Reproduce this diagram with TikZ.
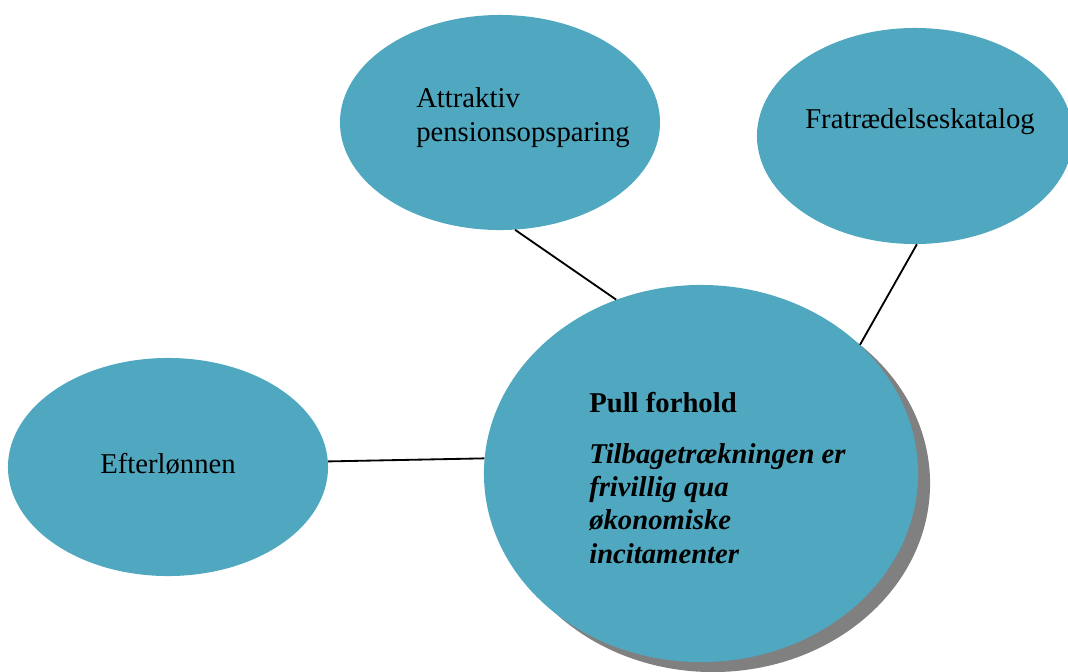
\documentclass[tikz,border=0pt]{standalone}
\usepackage{fontspec}
\setmainfont{Liberation Serif}
\usetikzlibrary{shapes.geometric}

\definecolor{bubblefill}{RGB}{79,168,192}
\definecolor{shadowgray}{RGB}{128,128,128}

\begin{document}
\begin{tikzpicture}[
  x=0.025cm, y=-0.025cm,
  bubble/.style={
    ellipse, fill=bubblefill, draw=none, inner sep=0pt
  },
  shade/.style={bubble, fill=shadowgray},
  txt/.style={
    anchor=base west, inner sep=0pt, align=left,
    font=\fontsize{20.4}{23.5}\selectfont
  },
  link/.style={draw=black, line width=1.3pt},
]
\useasboundingbox (0,0) rectangle (1068,672);

% Central bubble with its shadow
\node[shade, minimum width=10.85cm, minimum height=9.425cm] (pullshadow) at (713,483.5) {};
\node[bubble, minimum width=10.85cm, minimum height=9.425cm] (pull) at (701,473.5) {};

% Outer bubbles
\node[bubble, minimum width=8cm, minimum height=5.375cm] (pension) at (500,122.5) {};
\node[bubble, minimum width=7.9cm, minimum height=5.4cm] (katalog) at (915,136) {};
\node[bubble, minimum width=8cm, minimum height=5.45cm] (efterlon) at (168,467) {};

% Connectors
\draw[link] (pension.-82) -- (pull.116.6);
\draw[link] (katalog.-89) -- (pull.39.1);
\draw[link] (efterlon.2.5) -- (pull.176.4);

% Texts (base = baseline of the last line)
\node[txt] (pensiontxt) at (416,141) {Attraktiv\\pensionsopsparing};
\node[txt] (katalogtxt) at (805,128) {Fratrædelseskatalog};
\node[txt] (efterlontxt) at (100,473) {Efterlønnen};
\node[txt] (pulltxt) at (589,563) {\textbf{Pull forhold}\\[13pt]
  \textbf{\textit{Tilbagetrækningen er}}\\
  \textbf{\textit{frivillig qua}}\\
  \textbf{\textit{økonomiske}}\\
  \textbf{\textit{incitamenter}}};

\end{tikzpicture}
\end{document}
